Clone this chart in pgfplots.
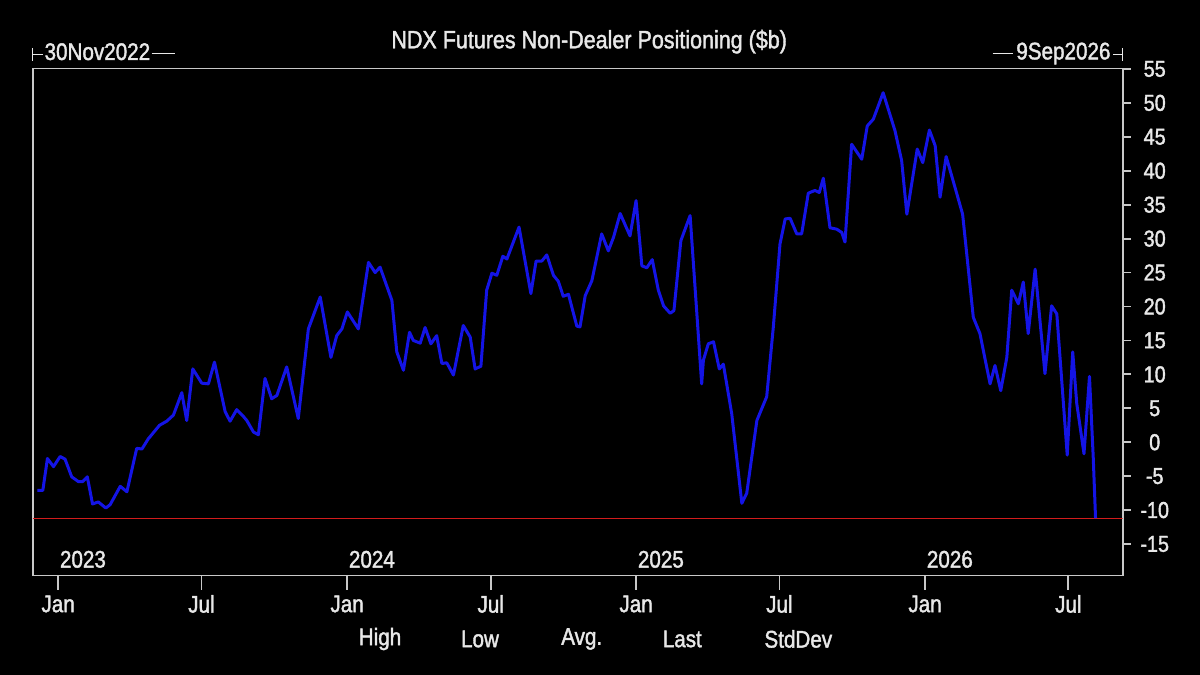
\documentclass[border=0pt]{standalone}
\usepackage{fontspec}
\setmainfont{Liberation Sans}[FakeStretch=0.86, FakeBold=1.6]
\usepackage{pgfplots}
\pgfplotsset{compat=1.18}
\definecolor{fg}{HTML}{E8E8E8}
\definecolor{axisgray}{HTML}{C8C8C8}
\definecolor{lineblue}{HTML}{1414E6}
\definecolor{lastred}{HTML}{D21C1C}
\newcommand{\fs}[1]{\fontsize{#1}{#1}\selectfont}
% x = years elapsed since 1 Jan 2023
\begin{document}
\begin{tikzpicture}
\fill[black] (0,0) rectangle (600pt,337.5pt);
\useasboundingbox (0,0) rectangle (600pt,337.5pt);
\begin{axis}[
  at={(16.35pt,49.75pt)}, anchor=south west,
  scale only axis, width=545pt, height=253.5pt,
  xmin=-0.088, xmax=3.684, ymin=-19.64, ymax=55.07,
  axis line style={axisgray, line width=0.9pt},
  xtick pos=bottom, ytick pos=right, yticklabel pos=right,
  tick align=outside, major tick length=4pt,
  tick style={axisgray, line width=0.9pt},
  ytick={-15,-10,...,55},
  xtick={0,0.496,1,1.497,2,2.496,3,3.496},
  xticklabels={Jan,Jul,Jan,Jul,Jan,Jul,Jan,Jul},
  ticklabel style={text=fg},
  yticklabel style={font=\fs{11.5}, anchor=center, xshift=12pt},
  xticklabel style={font=\fs{12}, anchor=center, yshift=-10.25pt},
  /pgf/number format/assume math mode=true,
  clip mode=individual,
]
\addplot[lastred, line width=0.7pt] coordinates {(-0.088,-11.2) (3.684,-11.2)};
\addplot[lineblue, line width=1.5pt, line join=round] coordinates {
(-0.072,-7.1) (-0.053,-7.1) (-0.037,-2.4) (-0.016,-3.6) (0.007,-2.1)
(0.024,-2.5) (0.047,-5.1) (0.070,-5.8) (0.085,-5.8) (0.101,-5.1)
(0.119,-9.1) (0.139,-8.8) (0.165,-9.7) (0.180,-9.2) (0.215,-6.5)
(0.238,-7.3) (0.272,-0.9) (0.290,-1.0) (0.312,0.5) (0.351,2.5)
(0.376,3.1) (0.399,4.0) (0.428,7.3) (0.445,3.2) (0.466,10.8)
(0.497,8.7) (0.520,8.6) (0.541,11.8) (0.578,4.5) (0.595,3.1)
(0.618,4.8) (0.641,3.8) (0.653,3.2) (0.676,1.5) (0.693,1.1)
(0.716,9.4) (0.739,6.4) (0.757,6.9) (0.791,11.1) (0.831,3.5)
(0.866,16.7) (0.907,21.4) (0.944,12.5) (0.964,15.7) (0.982,16.7)
(1.001,19.2) (1.039,16.7) (1.074,26.5) (1.097,25.0) (1.114,25.8)
(1.155,20.9) (1.172,13.3) (1.195,10.6) (1.216,16.2) (1.229,15.0)
(1.253,14.6) (1.270,16.9) (1.290,14.5) (1.310,15.7) (1.328,11.6)
(1.345,11.7) (1.368,9.9) (1.402,17.2) (1.426,15.5) (1.443,10.8)
(1.463,11.2) (1.483,22.4) (1.501,24.9) (1.518,24.6) (1.539,27.4)
(1.553,27.0) (1.595,31.7) (1.636,21.9) (1.654,26.7) (1.674,26.7)
(1.691,27.6) (1.714,24.6) (1.731,23.7) (1.748,21.5) (1.766,21.8)
(1.795,17.1) (1.806,17.0) (1.824,21.6) (1.847,23.8) (1.881,30.7)
(1.904,28.2) (1.922,30.2) (1.945,33.7) (1.979,30.4) (2.000,35.6)
(2.020,26.0) (2.037,25.7) (2.056,26.9) (2.077,22.4) (2.095,20.1)
(2.118,19.0) (2.131,19.4) (2.155,29.7) (2.187,33.4) (2.227,8.6)
(2.233,12.1) (2.250,14.5) (2.268,14.8) (2.288,10.8) (2.302,11.5)
(2.331,4.2) (2.366,-9.0) (2.383,-7.5) (2.418,3.2) (2.452,6.7)
(2.475,17.0) (2.498,29.2) (2.516,32.9) (2.533,33.0) (2.556,30.7)
(2.573,30.7) (2.596,36.7) (2.619,37.1) (2.634,36.8) (2.648,38.9)
(2.671,31.6) (2.694,31.4) (2.712,30.9) (2.723,29.5) (2.746,43.9)
(2.781,41.7) (2.800,46.6) (2.821,47.6) (2.855,51.5) (2.896,45.9)
(2.919,41.5) (2.937,33.6) (2.973,43.2) (2.992,41.2) (3.015,46.0)
(3.035,43.7) (3.052,36.1) (3.073,42.1) (3.104,37.5) (3.130,33.6)
(3.167,18.4) (3.190,16.0) (3.225,8.6) (3.242,11.3) (3.262,7.6)
(3.283,12.5) (3.300,22.4) (3.323,20.4) (3.340,23.6) (3.357,16.0)
(3.381,25.5) (3.415,10.1) (3.438,20.1) (3.456,18.9) (3.492,-1.9)
(3.511,13.3) (3.525,5.7) (3.550,-1.7) (3.569,9.7) (3.582,-2.2)
(3.590,-11.2)
};
\pgfplotsinvokeforeach{0,0.496,1,1.497,2,2.496,3,3.496}{
  \draw[axisgray, line width=0.9pt] (axis cs:#1,-19.64) -- ++(0pt,-7pt);
}
\node[anchor=west, inner sep=0pt, text=fg, font=\fs{12}] at (axis cs:0.005,-17.26) {2023};
\node[anchor=west, inner sep=0pt, text=fg, font=\fs{12}] at (axis cs:1.005,-17.26) {2024};
\node[anchor=west, inner sep=0pt, text=fg, font=\fs{12}] at (axis cs:2.005,-17.26) {2025};
\node[anchor=west, inner sep=0pt, text=fg, font=\fs{12}] at (axis cs:3.005,-17.26) {2026};
\end{axis}
% title and date range markers
\node[anchor=base, inner sep=0pt, text=fg, font=\fs{12.5}] at (294.6pt,313.35pt) {NDX Futures Non-Dealer Positioning (\$b)};
\node[anchor=base, inner sep=0pt, text=fg, font=\fs{12}] at (48.7pt,307.5pt) {30Nov2022};
\node[anchor=base, inner sep=0pt, text=fg, font=\fs{12}] at (531.7pt,307.8pt) {9Sep2026};
\draw[fg, line width=0.7pt] (16.35pt,307pt) -- (16.35pt,313.25pt);
\draw[fg, line width=0.7pt] (16.35pt,310.2pt) -- (21.5pt,310.2pt);
\draw[fg, line width=0.7pt] (75.8pt,310.6pt) -- (87.5pt,310.6pt);
\draw[fg, line width=0.7pt] (496.35pt,310.6pt) -- (506.65pt,310.6pt);
\draw[fg, line width=0.7pt] (556.5pt,310.2pt) -- (561.35pt,310.2pt);
\draw[fg, line width=0.7pt] (561.35pt,307pt) -- (561.35pt,313.25pt);
% statistics header
\foreach \lab/\xx in {High/190, Low/240, Avg./290.85, Last/341.15, StdDev/399.15}{
  \node[anchor=center, inner sep=0pt, text=fg, font=\fs{12}] at (\xx pt,18pt) {\lab};
}
\end{tikzpicture}
\end{document}
